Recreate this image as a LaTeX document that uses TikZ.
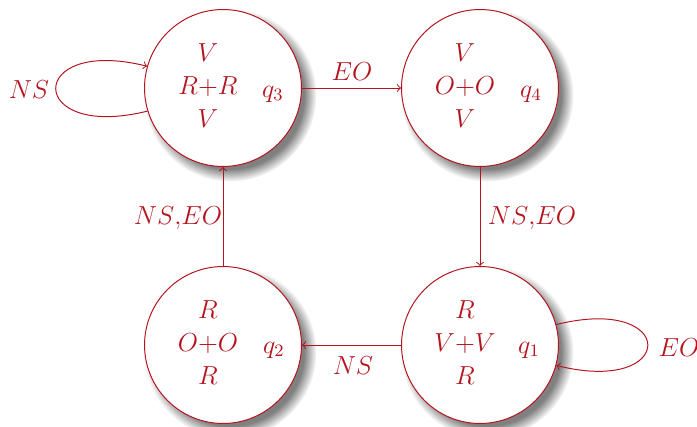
\documentclass[tikz,border=0pt]{standalone}
\usetikzlibrary{shadows}
\definecolor{dred}{RGB}{180,20,30}
\begin{document}
\begin{tikzpicture}[x=0.46pt,y=-0.46pt,
  state/.style={circle, draw=dred, fill=white, line width=0.45pt, minimum size=72.2pt, inner sep=0pt,
    circular drop shadow={shadow xshift=3pt, shadow yshift=-3pt, shadow scale=1.1}},
  lab/.style={text=dred, inner sep=0pt, font=\fontsize{12}{12}\selectfont},
  edgeline/.style={draw=dred, ->, line width=0.45pt}]
\useasboundingbox (0,0) rectangle (697,427);
\renewcommand{\arraystretch}{1.25}
% states
\node[state] (q3) at (223,88) {};
\node[state] (q4) at (480,88) {};
\node[state] (q2) at (223,345) {};
\node[state] (q1) at (480,345) {};
% contents
\node[lab] (q3t) at (208,88) {$\begin{array}{c}V\\R{+}R\\V\end{array}$};
\node[lab, anchor=base] (q3l) at (273,97) {$q_3$};
\node[lab] (q4t) at (465,88) {$\begin{array}{c}V\\O{+}O\\V\end{array}$};
\node[lab, anchor=base] (q4l) at (531,97) {$q_4$};
\node[lab] (q2t) at (208,345) {$\begin{array}{c}R\\O{+}O\\R\end{array}$};
\node[lab, anchor=base] (q2l) at (274,353) {$q_2$};
\node[lab] (q1t) at (465,345) {$\begin{array}{c}R\\V{+}V\\R\end{array}$};
\node[lab, anchor=base] (q1l) at (529,353) {$q_1$};
% edges
\draw[edgeline] (q3) -- (q4);
\draw[edgeline] (q4) -- (q1);
\draw[edgeline] (q1) -- (q2);
\draw[edgeline] (q2) -- (q3);
\draw[edgeline] (q3.197) to[out=194, in=166, distance=57.8pt] (q3.164);
\draw[edgeline] (q1.15) to[out=14, in=-14, distance=57.8pt] (q1.-15);
% edge labels
\node[lab, anchor=base] (e34) at (352,80) {$EO$};
\node[lab, anchor=base] (e41) at (532,224) {$NS{,}EO$};
\node[lab, anchor=base] (e12) at (353,374) {$NS$};
\node[lab, anchor=base] (e23) at (178,224) {$NS{,}EO$};
\node[lab, anchor=base] (e33) at (29,98) {$NS$};
\node[lab, anchor=base] (e11) at (679,356) {$EO$};
\end{tikzpicture}
\end{document}
